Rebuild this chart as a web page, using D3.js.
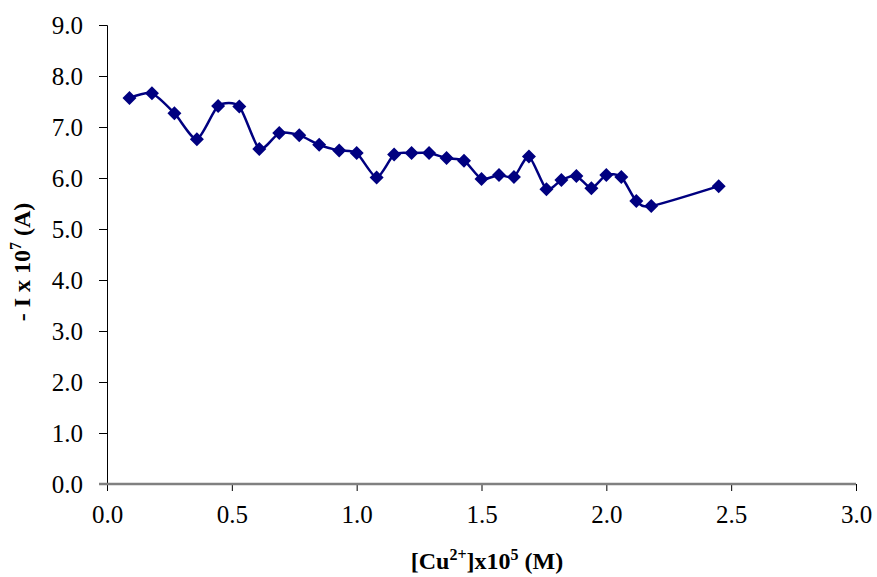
<!DOCTYPE html>
<html>
<head>
<meta charset="utf-8">
<script src="https://d3js.org/d3.v7.min.js"></script>
<style>
    body { margin: 0; background: #fff; }
    text { font-family: "Liberation Serif", "Times New Roman", serif; fill: #000; }
    .tick text { font-size: 25px; }
    .axis-title { font-size: 24px; font-weight: bold; }
</style>
</head>
<body>
<script>
// concentration of Cu2+ (x 10^5 M)
var conc = [0.09, 0.18, 0.27, 0.36, 0.445, 0.53, 0.61, 0.69, 0.77, 0.85, 0.93, 1.0,
            1.08, 1.15, 1.22, 1.29, 1.36, 1.43, 1.50, 1.57, 1.63, 1.69, 1.76, 1.82,
            1.88, 1.94, 2.00, 2.06, 2.12, 2.18, 2.45];
// - I x 10^7 (A)
var current = [7.57, 7.66, 7.27, 6.76, 7.41, 7.40, 6.57, 6.88, 6.84, 6.65, 6.54, 6.49,
               6.01, 6.46, 6.49, 6.49, 6.39, 6.34, 5.98, 6.06, 6.02, 6.42, 5.78, 5.96,
               6.04, 5.80, 6.06, 6.02, 5.55, 5.45, 5.84];
var xTicks = [0, 0.5, 1.0, 1.5, 2.0, 2.5, 3.0];
var yTicks = [0, 1, 2, 3, 4, 5, 6, 7, 8, 9];

var width = 877, height = 577;
var margin = {top: 25, right: 21, bottom: 93, left: 107};

var points = conc.map(function (c, i) { return {x: c, y: current[i]}; });

var svg = d3.select("body").append("svg")
    .attr("width", width)
    .attr("height", height);

var x = d3.scaleLinear().domain([0, 3]).range([margin.left, width - margin.right]);
var y = d3.scaleLinear().domain([0, 9]).range([height - margin.bottom, margin.top]);

// y axis
var yAxis = svg.append("g")
    .attr("transform", "translate(" + margin.left + ",0)")
    .call(d3.axisLeft(y).tickValues(yTicks).tickFormat(d3.format(".1f")).tickSize(8).tickPadding(16));
yAxis.select(".domain").attr("stroke", "#000").attr("stroke-width", 1);
yAxis.selectAll(".tick line").attr("stroke", "#000");

// x axis
var xAxis = svg.append("g")
    .attr("transform", "translate(0," + y(0) + ")")
    .call(d3.axisBottom(x).tickValues(xTicks).tickFormat(d3.format(".1f")).tickSize(7).tickSizeOuter(0).tickPadding(14));
xAxis.select(".domain").remove();
xAxis.append("line")
    .attr("x1", margin.left - 8).attr("x2", x(3))
    .attr("stroke", "#808080").attr("stroke-width", 2.5);
xAxis.selectAll(".tick line").attr("stroke", "#000");

// series
var line = d3.line()
    .x(function (d) { return x(d.x); })
    .y(function (d) { return y(d.y); })
    .curve(d3.curveCardinal.tension(0.3));

svg.append("path")
    .datum(points)
    .attr("fill", "none")
    .attr("stroke", "#000080")
    .attr("stroke-width", 2.5)
    .attr("d", line);

svg.append("g").selectAll("path")
    .data(points)
    .enter().append("path")
    .attr("d", d3.symbol().type(d3.symbolSquare).size(98))
    .attr("fill", "#000080")
    .attr("transform", function (d) {
        return "translate(" + x(d.x) + "," + y(d.y) + ") rotate(45)";
    });

// axis titles
var xt = svg.append("text")
    .attr("class", "axis-title")
    .attr("x", 487)
    .attr("y", 569)
    .attr("text-anchor", "middle");
xt.append("tspan").text("[Cu");
xt.append("tspan").attr("dy", -9).style("font-size", "16px").text("2+");
xt.append("tspan").attr("dy", 9).text("]x10");
xt.append("tspan").attr("dy", -9).style("font-size", "16px").text("5");
xt.append("tspan").attr("dy", 9).text(" (M)");

var yt = svg.append("text")
    .attr("class", "axis-title")
    .attr("transform", "translate(30,262) rotate(-90)")
    .attr("text-anchor", "middle");
yt.append("tspan").text("- I x 10");
yt.append("tspan").attr("dy", -9).style("font-size", "16px").text("7");
yt.append("tspan").attr("dy", 9).text(" (A)");
</script>
</body>
</html>
